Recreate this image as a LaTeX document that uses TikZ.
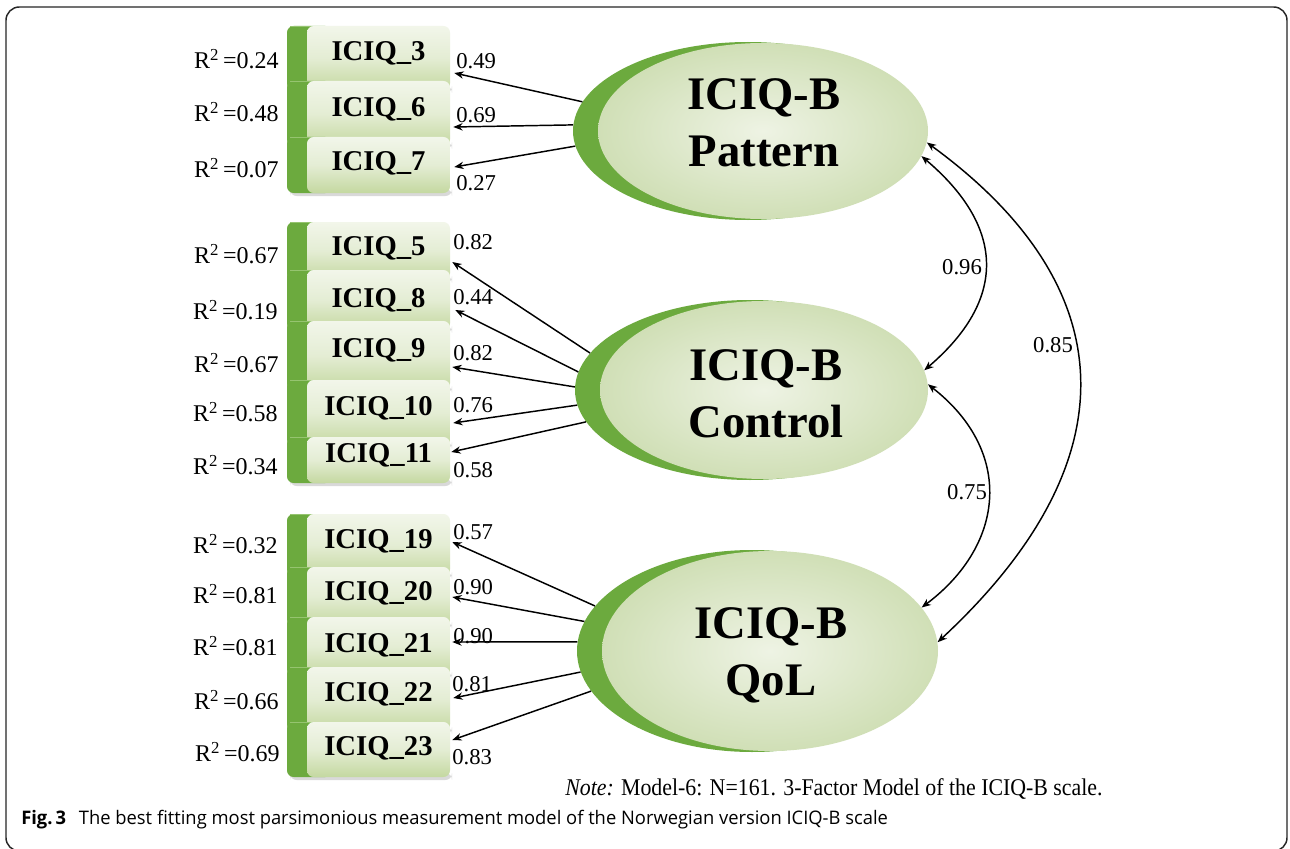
\documentclass[tikz,border=0pt]{standalone}
\usepackage{graphicx}
\usepackage{fontspec}
\setmainfont{Liberation Serif}
\newfontfamily\capfont{Open Sans}
\usetikzlibrary{shapes.geometric,arrows.meta,calc}
\definecolor{dkg}{RGB}{108,170,62}
\definecolor{dkl}{RGB}{150,196,112}
\definecolor{btop}{RGB}{242,246,234}
\definecolor{bmid}{RGB}{228,237,212}
\definecolor{bbot}{RGB}{196,216,160}
\definecolor{ein}{RGB}{238,243,228}
\definecolor{eout}{RGB}{208,223,182}
\newcommand\ibox[5]{%
  \fill[black!15,rounded corners=5pt] (290,#3-4) rectangle (452,#3+3);
  \fill[dkg,rounded corners=5pt] (287,#2) rectangle (332,#3);
  \draw[dkl,line width=1pt] (290,#2+0.7) -- (312,#2+0.7);
  \shade[rounded corners=5pt,top color=btop,bottom color=bbot,middle color=bmid] (307,#2) rectangle (450,#3);
  \node[itemtxt] (#1) at (378.5,#4) {#5};}
\begin{document}
\begin{tikzpicture}[x=0.75pt,y=-0.75pt,
  itemtxt/.style={font=\fontsize{21.5}{24}\selectfont\bfseries,inner sep=0pt,minimum width={143*0.75pt}},
  rlab/.style={font=\fontsize{18}{20}\selectfont,anchor=east,inner sep=0pt},
  llab/.style={font=\fontsize{17}{20}\selectfont,anchor=west,inner sep=0pt},
  clab/.style={font=\fontsize{17}{20}\selectfont,inner sep=0pt},
  darkell/.style={ellipse,fill=dkg,inner sep=0pt},
  lightell/.style={ellipse,inner sep=0pt,inner color=ein,outer color=eout},
  lattxt/.style={font=\fontsize{35}{43}\selectfont\bfseries,align=center,inner sep=0pt},
  load/.style={-{Stealth[length=7pt,width=5.5pt]},line width=1.1pt},
  cov/.style={{Stealth[length=7pt,width=5.5pt]}-{Stealth[length=7pt,width=5.5pt]},line width=1.1pt}]
\useasboundingbox (0,0) rectangle (1290,849);
\fill[white] (0,0) rectangle (1290,849);
\draw[line width=1.1pt,rounded corners=10pt,black!85] (6,7) rectangle (1287,851);

% boxes group 1
\ibox{b3}{26}{90}{53}{ICIQ\_3}
\ibox{b6}{81}{146}{109}{ICIQ\_6}
\ibox{b7}{137}{193}{163}{ICIQ\_7}
% group 2
\ibox{b5}{222}{280}{248}{ICIQ\_5}
\ibox{b8}{270}{330}{300}{ICIQ\_8}
\ibox{b9}{321}{390}{350}{ICIQ\_9}
\ibox{b10}{380}{446}{408}{ICIQ\_10}
\ibox{b11}{437}{483}{455}{ICIQ\_11}
% group 3
\ibox{b19}{514}{576}{541}{ICIQ\_19}
\ibox{b20}{567}{626}{593}{ICIQ\_20}
\ibox{b21}{617}{676}{645}{ICIQ\_21}
\ibox{b22}{667}{731}{694}{ICIQ\_22}
\ibox{b23}{722}{777}{748}{ICIQ\_23}

% R2 labels
\node[rlab] (r3) at (279,59) {R\textsuperscript{2}\,=0.24};
\node[rlab] (r6) at (279,112) {R\textsuperscript{2}\,=0.48};
\node[rlab] (r7) at (279,168) {R\textsuperscript{2}\,=0.07};
\node[rlab] (r5) at (279,254) {R\textsuperscript{2}\,=0.67};
\node[rlab] (r8) at (278,310) {R\textsuperscript{2}\,=0.19};
\node[rlab] (r9) at (279,363) {R\textsuperscript{2}\,=0.67};
\node[rlab] (r10) at (278,412) {R\textsuperscript{2}\,=0.58};
\node[rlab] (r11) at (278,465) {R\textsuperscript{2}\,=0.34};
\node[rlab] (r19) at (278,544) {R\textsuperscript{2}\,=0.32};
\node[rlab] (r20) at (278,594) {R\textsuperscript{2}\,=0.81};
\node[rlab] (r21) at (278,646) {R\textsuperscript{2}\,=0.81};
\node[rlab] (r22) at (279,700) {R\textsuperscript{2}\,=0.66};
\node[rlab] (r23) at (280,752) {R\textsuperscript{2}\,=0.69};

% latent ellipses
\node[darkell,minimum width={350*0.75pt},minimum height={178*0.75pt}] (pat) at (748,131) {};
\node[lightell,minimum width={330*0.75pt},minimum height={176*0.75pt}] (patL) at (763,131) {};
\node[lattxt] (patT) at (764,123) {ICIQ-B\\Pattern};
\node[darkell,minimum width={350*0.75pt},minimum height={180*0.75pt}] (con) at (750,390) {};
\node[lightell,minimum width={328*0.75pt},minimum height={178*0.75pt}] (conL) at (764,390) {};
\node[lattxt] (conT) at (766,394) {ICIQ-B\\Control};
\node[darkell,minimum width={350*0.75pt},minimum height={202*0.75pt}] (qol) at (752,651) {};
\node[lightell,minimum width={336*0.75pt},minimum height={200*0.75pt}] (qolL) at (770,651) {};
\node[lattxt] (qolT) at (771,655) {ICIQ-B\\QoL};

% loadings
\draw[load] (pat.170.6) -- ($(b3.east)+(4,20)$);
\draw[load] (pat.178.7) -- ($(b6.east)+(3,18)$);
\draw[load] (pat.185.3) -- ($(b7.east)+(4,4)$);
\draw[load] (con.167.4) -- ($(b5.east)+(2,14)$);
\draw[load] (con.174.2) -- ($(b8.east)+(5,10)$);
\draw[load] (con.179.3) -- ($(b9.east)+(2,17)$);
\draw[load] (con.185.5) -- ($(b10.east)+(3,15)$);
\draw[load] (con.191.5) -- ($(b11.east)+(1,-3)$);
\draw[load] (qol.164.9) -- ($(b19.east)+(2,1)$);
\draw[load] (qol.170.6) -- ($(b20.east)+(2,4)$);
\draw[load] (qol.177.1) -- ($(b21.east)+(2,-3)$);
\draw[load] (qol.187.9) -- ($(b22.east)+(3,4)$);
\draw[load] (qol.194.2) -- ($(b23.east)+(2,-8)$);

\node[llab] (l3) at (456,61) {0.49};
\node[llab] (l6) at (456,115) {0.69};
\node[llab] (l7) at (456,183) {0.27};
\node[llab] (l5) at (453,242) {0.82};
\node[llab] (l8) at (453,297) {0.44};
\node[llab] (l9) at (453,353) {0.82};
\node[llab] (l10) at (453,405) {0.76};
\node[llab] (l11) at (453,470) {0.58};
\node[llab] (l19) at (453,532) {0.57};
\node[llab] (l20) at (453,587) {0.90};
\node[llab] (l21) at (453,636) {0.90};
\node[llab] (l22) at (452,684) {0.81};
\node[llab] (l23) at (452,757) {0.83};

% covariances
\draw[cov] (patL.-9.5) .. controls +(85,72) and +(82,-70) .. (conL.7);
\draw[cov] (patL.-4.7) .. controls +(199,145) and +(194,-180) .. (qolL.3.8);
\draw[cov] (conL.2.4) .. controls +(86,67) and +(84,-63) .. (qolL.16.2);
\node[clab] (c96) at (962,267) {0.96};
\node[clab] (c85) at (1053,345) {0.85};
\node[clab] (c75) at (967,492) {0.75};

% note and caption
\node[anchor=west,inner sep=0pt,font=\fontsize{18}{20}\selectfont] (note) at (565,789)
  {\resizebox{403pt}{\height}{\textit{Note:} Model-6: N=161. 3-Factor Model of the ICIQ-B scale.}};
\node[anchor=west,inner sep=0pt,font=\capfont\fontsize{14}{16}\selectfont] (cap) at (21,820)
  {\resizebox{650pt}{\height}{\textbf{Fig.\,3}\hspace{0.7em}The best fitting most parsimonious measurement model of the Norwegian version ICIQ-B scale}};
\end{tikzpicture}
\end{document}
